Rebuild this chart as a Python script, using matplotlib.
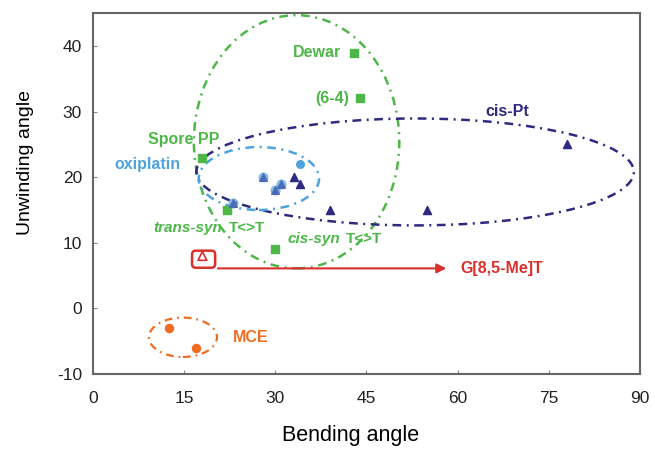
import matplotlib.pyplot as plt
from matplotlib.patches import Ellipse, FancyBboxPatch

plt.rcParams['font.family'] = ['Liberation Sans', 'DejaVu Sans']
plt.rcParams['axes.unicode_minus'] = False

# lesion data (bending angle, unwinding angle)
uv_bend = [43, 44, 18, 22, 30]
uv_unwind = [39, 32, 23, 15, 9]

cispt_bend = [33, 34, 39, 55, 78]
cispt_unwind = [20, 19, 15, 15, 25]

oxi_tri_bend = [28, 31, 30, 23]
oxi_tri_unwind = [20, 19, 18, 16]
oxi_dot_bend = [34]
oxi_dot_unwind = [22]

gme_bend = [18]
gme_unwind = [8]

mce_bend = [12.5, 17]
mce_unwind = [-3, -6]

green = '#4db848'
navy = '#2e2a80'
lblue = '#4fa3dc'
red = '#d9302c'
orange = '#ef6c22'
dashdot = (0, (3.5, 2.2, 0.8, 2.2))

fig = plt.figure(figsize=(6.55, 4.55), dpi=100)
ax = fig.add_axes([0.142, 0.178, 0.835, 0.793])

ax.scatter(uv_bend, uv_unwind, marker='s', s=28, color=green, zorder=3)
ax.scatter(oxi_tri_bend, oxi_tri_unwind, marker='o', s=40, color=lblue, alpha=0.6, zorder=3)
ax.scatter(oxi_tri_bend, oxi_tri_unwind, marker='^', s=30, color='#4a6cb8', zorder=4)
ax.scatter(oxi_dot_bend, oxi_dot_unwind, marker='o', s=30, color=lblue, zorder=3)
ax.scatter(cispt_bend, cispt_unwind, marker='^', s=34, color=navy, zorder=4)
ax.scatter(gme_bend, gme_unwind, marker='^', s=40, facecolor='none', edgecolor=red, lw=1.2, zorder=4)
ax.scatter(mce_bend, mce_unwind, marker='o', s=34, color=orange, zorder=3)

# grouping ellipses
ax.add_patch(Ellipse((33.5, 25.4), 33.8, 38.6, fill=False, ec=green, lw=1.8, ls=dashdot))
ax.add_patch(Ellipse((53, 20.8), 72, 16.3, fill=False, ec=navy, lw=1.8, ls=dashdot))
ax.add_patch(Ellipse((27.3, 19.8), 19.8, 9.6, fill=False, ec=lblue, lw=1.8, ls=dashdot))
ax.add_patch(Ellipse((14.8, -4.4), 11.2, 6.0, fill=False, ec=orange, lw=1.6, ls=dashdot))

# box and arrow for G[8,5-Me]T
ax.add_patch(FancyBboxPatch((16.3, 6.2), 3.8, 2.6, boxstyle='round,pad=0,rounding_size=0.6',
                            fill=False, ec=red, lw=1.8))
ax.annotate('', xy=(58.6, 6.1), xytext=(20.1, 6.1),
            arrowprops=dict(arrowstyle='-|>', color=red, lw=1.5, mutation_scale=14))

lab = dict(fontsize=11.5, fontweight='bold', va='center')
small = dict(fontsize=11, fontweight='bold', va='center')
ax.text(40.8, 39, 'Dewar', color=green, ha='right', **lab)
ax.text(42.2, 32, '(6-4)', color=green, ha='right', **lab)
ax.text(9, 25.8, 'Spore PP', color=green, ha='left', **lab)
ax.text(3.5, 22, 'oxiplatin', color=lblue, ha='left', **lab)
ax.text(64.5, 30, 'cis-Pt', color=navy, ha='left', **lab)
ax.text(10, 12.2, 'trans-syn', color=green, ha='left', style='italic', **small)
ax.text(22.4, 12.2, 'T<>T', color=green, ha='left', **small)
ax.text(32, 10.6, 'cis-syn', color=green, ha='left', style='italic', **small)
ax.text(41.6, 10.6, 'T<>T', color=green, ha='left', **small)
ax.text(60.5, 6.1, 'G[8,5-Me]T', color=red, ha='left', **lab)
ax.text(23, -4.5, 'MCE', color=orange, ha='left', **lab)

ax.set_xlim(0, 90)
ax.set_ylim(-10, 45)
ax.set_xticks(range(0, 91, 15))
ax.set_yticks(range(-10, 41, 10))
ax.tick_params(direction='in', length=3, labelsize=12.5, colors='#888888', labelcolor='#222222')
ax.tick_params(axis='x', pad=12)
ax.tick_params(axis='y', pad=8)
for sp in ax.spines.values():
    sp.set_color('#666666')
    sp.set_linewidth(1.5)

ax.set_xlabel('Bending angle', fontsize=15.5)
ax.xaxis.set_label_coords(0.47, -0.14)
ax.set_ylabel('Unwinding angle', fontsize=14)
ax.yaxis.set_label_coords(-0.108, 0.585)

fig.savefig('out.png', dpi=100)
